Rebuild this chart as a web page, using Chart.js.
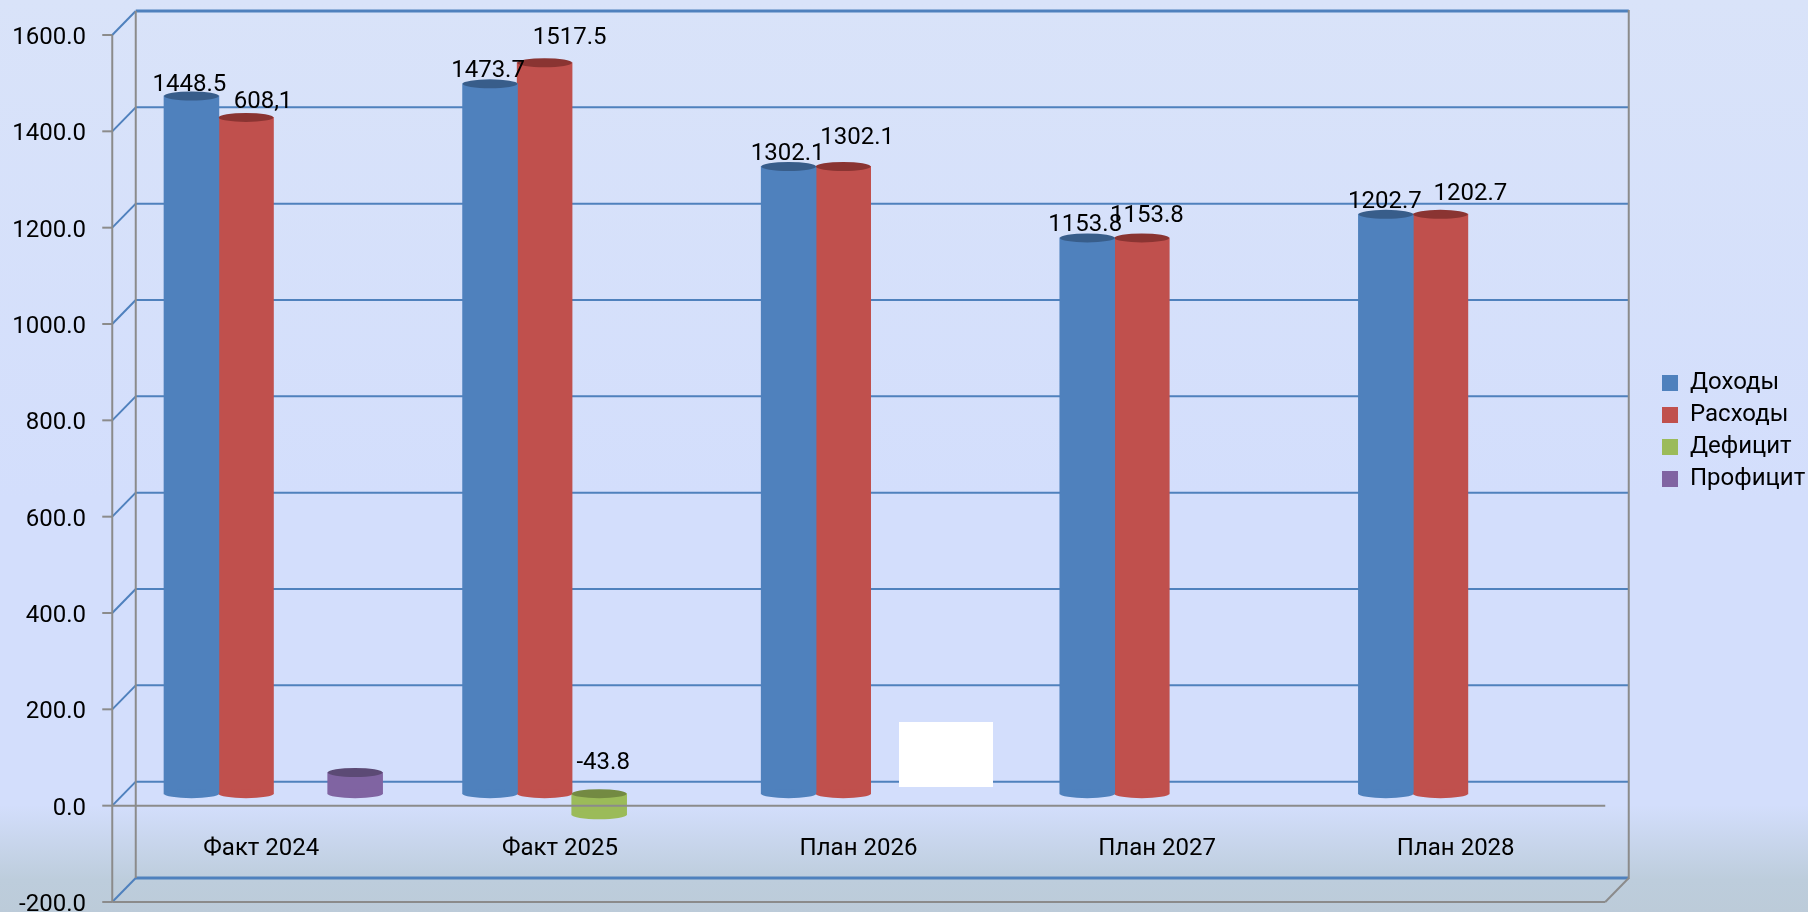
<!DOCTYPE html>
<html lang="ru">
<head>
<meta charset="utf-8">
<title>Доходы и расходы</title>
<script src="https://cdn.jsdelivr.net/npm/chart.js@4"></script>
<style>
  html, body { margin: 0; padding: 0; overflow: hidden; }
  body {
    width: 1808px; height: 912px; position: relative;
    background: linear-gradient(180deg, #d9e3f9 0px, #d3defc 500px, #d3defc 805px, #bdcddc 880px, #bccbd9 912px);
  }
  canvas { display: block; position: absolute; left: 0; top: 0; }
  #mask { position: absolute; left: 899px; top: 722px; width: 94px; height: 65px; background: #fff; }
</style>
</head>
<body>
<canvas id="budgetChart" width="1808" height="912"></canvas>
<div id="mask"></div>
<script>
const categories = ['Факт 2024', 'Факт 2025', 'План 2026', 'План 2027', 'План 2028'];

const incomeValues  = [1448.5, 1473.7, 1302.1, 1153.8, 1202.7];
const expenseValues = [1404, 1517.5, 1302.1, 1153.8, 1202.7];
const deficitValues = [null, -43.8, null, null, null];
const surplusValues = [44, null, null, null, null];

// texts printed over the bars (first expense label differs from its bar on the slide)
const incomeLabels  = ['1448.5', '1473.7', '1302.1', '1153.8', '1202.7'];
const expenseLabels = ['608,1', '1517.5', '1302.1', '1153.8', '1202.7'];
const deficitLabels = [null, '-43.8', null, null, null];
const surplusLabels = [null, null, null, null, null];

// nudges of the printed texts from the bar top
const incomeShift  = [[-2, -11], [-2, -13], [-1, -12], [-2, -13], [-1, -12]];
const expenseShift = [[17, -15], [25, -25], [14, -28], [5, -22], [30, -20]];
const deficitShift = [null, [4, -31], null, null, null];

const depthX = 11.75;
const depthY = 12;
const font = 'Roboto';
const wallGrey = '#8b8b8b';
const gridBlue = '#4f81bd';

function line(ctx, x1, y1, x2, y2, color, width) {
  ctx.beginPath();
  ctx.moveTo(x1, y1);
  ctx.lineTo(x2, y2);
  ctx.strokeStyle = color;
  ctx.lineWidth = width;
  ctx.stroke();
}

function ellipse(ctx, x, y, rx, ry, color) {
  ctx.beginPath();
  ctx.ellipse(x, y, rx, ry, 0, 0, Math.PI * 2);
  ctx.fillStyle = color;
  ctx.fill();
}

function drawTexts(chart, ds, i) {
  const ctx = chart.ctx;
  ctx.fillStyle = '#000';
  ctx.font = `24px ${font}`;
  ctx.textAlign = 'center';
  ctx.textBaseline = 'middle';
  chart.getDatasetMeta(i).data.forEach((bar, j) => {
    if (!ds.texts[j]) return;
    const top = Math.min(bar.y, bar.base);
    ctx.fillText(ds.texts[j], bar.x + ds.shift[j][0], top + ds.shift[j][1]);
  });
}

// the 3d box: back wall with grid, side wall, floor and front axis lines
const wallsPlugin = {
  id: 'walls',
  beforeDatasetsDraw(chart) {
    const ctx = chart.ctx;
    const yScale = chart.scales.y;
    const area = chart.chartArea;
    const frontL = area.left - depthX, frontR = area.right - depthX;
    const backL = area.left + depthX, backR = area.right + depthX;
    ctx.save();
    yScale.ticks.forEach(t => {
      const y = yScale.getPixelForValue(t.value);
      const w = t.value === yScale.min || t.value === yScale.max ? 3 : 2;
      line(ctx, backL, y - depthY, backR, y - depthY, gridBlue, w);
      line(ctx, frontL, y + depthY, backL, y - depthY, gridBlue, 2);
    });
    line(ctx, backL, yScale.top - depthY, backL, yScale.bottom - depthY, wallGrey, 2);
    line(ctx, backR, yScale.top - depthY - 1, backR, yScale.bottom - depthY + 1, wallGrey, 2);
    line(ctx, frontL, yScale.top + depthY, frontL, yScale.bottom + depthY, wallGrey, 2);
    yScale.ticks.forEach(t => {
      const y = yScale.getPixelForValue(t.value) + depthY;
      line(ctx, frontL - 10, y, frontL, y, wallGrey, 2);
    });
    line(ctx, frontL, yScale.bottom + depthY, frontR, yScale.bottom + depthY, wallGrey, 2);
    line(ctx, frontR, yScale.bottom + depthY, backR, yScale.bottom - depthY, wallGrey, 2);
    ctx.restore();
  }
};

// round caps turn the flat bars into cylinders, then the zero line and the value texts go on top
const cylinderPlugin = {
  id: 'cylinders',
  afterDatasetsDraw(chart) {
    const ctx = chart.ctx;
    const area = chart.chartArea;
    ctx.save();
    chart.data.datasets.forEach((ds, i) => {
      chart.getDatasetMeta(i).data.forEach((bar, j) => {
        if (ds.data[j] === null) return;
        const top = Math.min(bar.y, bar.base);
        const bottom = Math.max(bar.y, bar.base);
        const rx = bar.width / 2;
        ellipse(ctx, bar.x, bottom, rx, 4.5, ds.backgroundColor);
        ellipse(ctx, bar.x, top, rx, 4.5, ds.capColor);
      });
    });
    const zero = chart.scales.y.getPixelForValue(0) + depthY;
    line(ctx, area.left - depthX, zero, area.right - depthX, zero, wallGrey, 2);
    chart.data.datasets.forEach((ds, i) => drawTexts(chart, ds, i));
    ctx.restore();
  },
  afterLayout(chart) {
    // legend sits right of the box, outside the plot area
    const lg = chart.legend;
    lg.left = 1654;
    lg.top = 363;
    lg.right = 1808;
    lg.bottom = 520;
    lg.width = 154;
    lg.height = 157;
  }
};

new Chart(document.getElementById('budgetChart'), {
  type: 'bar',
  data: {
    labels: categories,
    datasets: [
      { label: 'Доходы', data: incomeValues, backgroundColor: '#4f81bd', capColor: '#385d8a', texts: incomeLabels, shift: incomeShift },
      { label: 'Расходы', data: expenseValues, backgroundColor: '#c0504d', capColor: '#8a3432', texts: expenseLabels, shift: expenseShift },
      { label: 'Дефицит', data: deficitValues, backgroundColor: '#9bbb59', capColor: '#738a42', texts: deficitLabels, shift: deficitShift },
      { label: 'Профицит', data: surplusValues, backgroundColor: '#8064a2', capColor: '#5c4a75', texts: surplusLabels, shift: [] }
    ]
  },
  options: {
    responsive: false,
    animation: false,
    borderWidth: 0,
    layout: { padding: { left: 0, top: 23, right: 191, bottom: 22 } },
    datasets: { bar: { barPercentage: 1, categoryPercentage: 0.731, inflateAmount: 0.5 } },
    scales: {
      x: {
        position: { y: 0 },
        afterFit: s => { s.height = 0; s.paddingTop = 0; s.paddingBottom = 0; },
        grid: { display: false },
        border: { display: false },
        ticks: { color: '#000', font: { family: font, size: 24 }, padding: 33, labelOffset: -12, maxRotation: 0 }
      },
      y: {
        min: -200,
        max: 1600,
        afterFit: s => { s.width = 124; s.paddingTop = 0; s.paddingBottom = 0; },
        grid: { display: false },
        border: { display: false },
        ticks: {
          stepSize: 200,
          color: '#000',
          font: { family: font, size: 24 },
          padding: 30,
          labelOffset: 15,
          callback: v => v.toFixed(1)
        }
      }
    },
    plugins: {
      tooltip: { enabled: false },
      legend: {
        position: 'chartArea',
        align: 'start',
        labels: { boxWidth: 16, boxHeight: 16, padding: 8, color: '#000', font: { family: font, size: 24 } }
      }
    }
  },
  plugins: [wallsPlugin, cylinderPlugin]
});
</script>
</body>
</html>
